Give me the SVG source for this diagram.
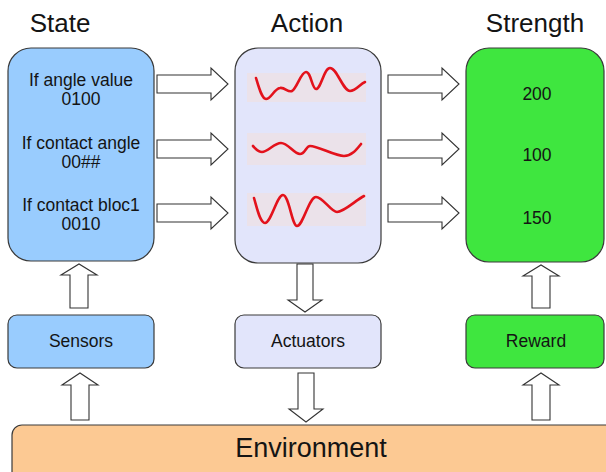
<svg xmlns="http://www.w3.org/2000/svg" width="606" height="472" viewBox="0 0 606 472">
<style>
text{font-family:"Liberation Sans",Arial,sans-serif;fill:#141414;text-anchor:middle}
.title{font-size:26px}
.t{font-size:17.5px}
.env{font-size:27px}
.box{stroke:#3a3a3a;stroke-width:1.2}
.blue{fill:#99ccfe}
.lav{fill:#e2e5fb}
.green{fill:#3fe63f}
.orange{fill:#fcc993}
.arrow{fill:#fff;stroke:#333;stroke-width:1.1;stroke-linejoin:miter}
.wbg{fill:#ebe2ea}
.wave{fill:none;stroke:#e3121c;stroke-width:2.6;stroke-linecap:round;stroke-linejoin:round}
</style>
<defs>
<path id="harrow" d="M0,-9 H54 V-16 L71,0 L54,16 V9 H0 Z"/>
</defs>
<rect width="606" height="472" fill="#fff"/>

<g id="titles">
<text class="title" x="60" y="32">State</text>
<text class="title" x="307" y="32">Action</text>
<text class="title" x="535" y="32">Strength</text>
</g>

<g id="state">
<rect class="box blue" x="8" y="48" width="146" height="213" rx="23"/>
<text class="t" x="81" y="86">If angle value</text>
<text class="t" x="81" y="105">0100</text>
<text class="t" x="81" y="149">If contact angle</text>
<text class="t" x="81" y="168">00##</text>
<text class="t" x="81" y="211">If contact bloc1</text>
<text class="t" x="81" y="230">0010</text>
</g>

<g id="action">
<rect class="box lav" x="235" y="48" width="146" height="215" rx="23"/>
<rect class="wbg" x="247" y="73" width="119" height="29"/>
<rect class="wbg" x="247" y="133" width="119" height="32"/>
<rect class="wbg" x="247" y="193" width="119" height="33"/>
<path class="wave" d="M256,78 C259,88 262,99 266,99 C271,99 274,89 280,88 C285,87 288,93 292,91 C297,88 301,72 306,72 C311,72 312,89 316,89 C321,89 324,68 330,68 C337,68 343,91 350,91 C356,91 360,84 365,82"/>
<path class="wave" d="M253,146 C256,149 258,152 262,152 C268,152 274,143 281,143 C288,143 294,154 300,154 C305,154 306,146 310,146 C318,146 335,156 344,156 C352,156 357,149 361,144"/>
<path class="wave" d="M254,198 C257,208 260,223 265,223 C271,223 277,195 283,195 C289,195 292,226 297,226 C303,226 309,197 316,197 C323,197 331,212 337,212 C344,212 356,200 364,196"/>
</g>

<g id="strength">
<rect class="box green" x="466" y="48" width="138" height="214" rx="23"/>
<text class="t" x="537" y="100">200</text>
<text class="t" x="537" y="161">100</text>
<text class="t" x="537" y="224">150</text>
</g>

<g id="sensors">
<rect class="box blue" x="8" y="315" width="146" height="53" rx="9"/>
<text class="t" x="81" y="347">Sensors</text>
</g>

<g id="actuators">
<rect class="box lav" x="235" y="315" width="146" height="53" rx="9"/>
<text class="t" x="308" y="347">Actuators</text>
</g>

<g id="reward">
<rect class="box green" x="466" y="315" width="138" height="53" rx="9"/>
<text class="t" x="536" y="347">Reward</text>
</g>

<g id="environment">
<rect class="box orange" x="12" y="425" width="606" height="60" rx="10"/>
<text class="env" x="311" y="457">Environment</text>
</g>

<g id="connectors">
<use href="#harrow" class="arrow" transform="translate(157,84)"/>
<use href="#harrow" class="arrow" transform="translate(157,149)"/>
<use href="#harrow" class="arrow" transform="translate(157,213)"/>
<use href="#harrow" class="arrow" transform="translate(388,84)"/>
<use href="#harrow" class="arrow" transform="translate(388,149)"/>
<use href="#harrow" class="arrow" transform="translate(388,213)"/>
<polygon class="arrow" points="70,308 70,275 61,275 79,264 97,275 88,275 88,308"/>
<polygon class="arrow" points="71,420 71,385 62,385 80,373 98,385 89,385 89,420"/>
<polygon class="arrow" points="532,308 532,276 523,276 541,265 559,276 550,276 550,308"/>
<polygon class="arrow" points="532,420 532,385 523,385 541,373 559,385 550,385 550,420"/>
<polygon class="arrow" points="297,264 297,300 288,300 305,312 322,300 313,300 313,264"/>
<polygon class="arrow" points="298,373 298,409 289,409 306,422 323,409 314,409 314,373"/>
</g>
</svg>
